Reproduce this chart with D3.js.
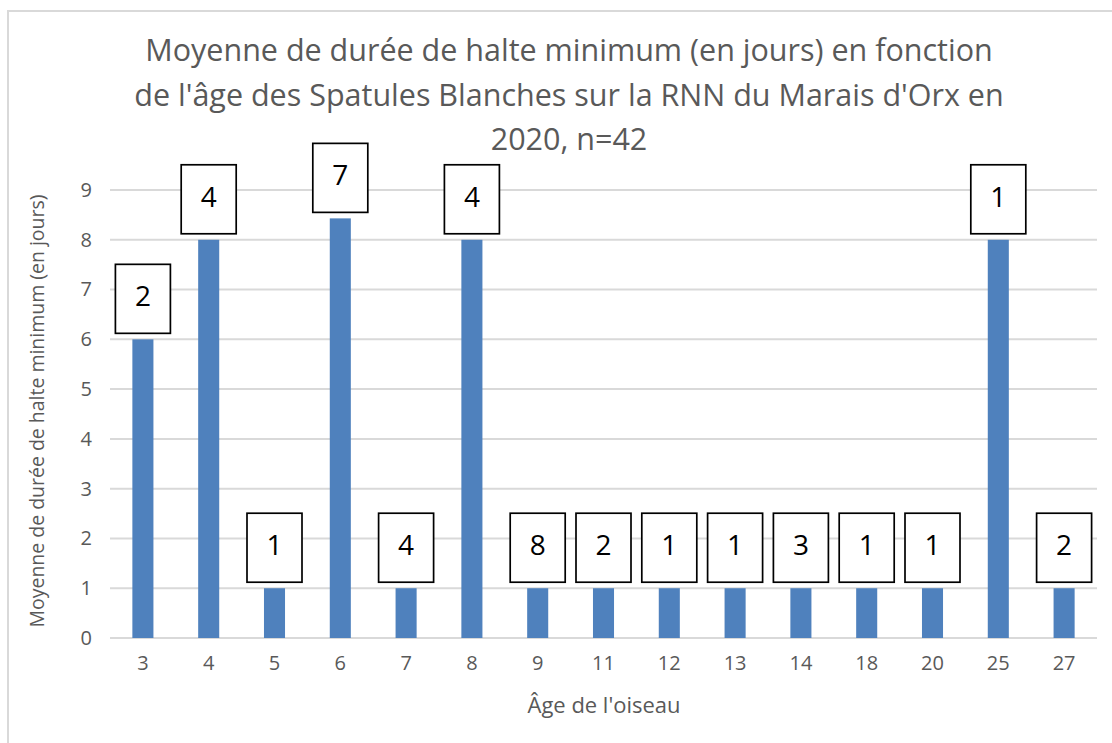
<!DOCTYPE html>
<html><head><meta charset="utf-8">
<script src="https://cdn.jsdelivr.net/npm/d3@7"></script>
<style>body{margin:0;background:#fff}svg{display:block}</style>
</head><body>
<svg id="c" width="1112" height="743"></svg>
<script>
const ages = ["3","4","5","6","7","8","9","11","12","13","14","18","20","25","27"];
const meanDays = [6,8,1,8.43,1,8,1,1,1,1,1,1,1,8,1];
const counts = [2,4,1,7,4,4,8,2,1,1,3,1,1,1,2];
const yTicks = [0,1,2,3,4,5,6,7,8,9];
const titleLines = ["Moyenne de durée de halte minimum (en jours) en fonction","de l'âge des Spatules Blanches sur la RNN du Marais d'Orx en","2020, n=42"];
const yTitle = "Moyenne de durée de halte minimum (en jours)";
const xTitle = "Âge de l'oiseau";

const svg = d3.select("#c");
const font = "'Open Sans', 'Noto Sans', sans-serif";
const grey = "#595959";

svg.append("rect").attr("x",8).attr("y",11).attr("width",1200).attr("height",800)
  .attr("fill","none").attr("stroke","#d9d9d9").attr("stroke-width",2);

const x = d3.scaleBand().domain(ages).range([110,1097]).paddingInner(0.68).paddingOuter(0.34);
const y = d3.scaleLinear().domain([0,9]).range([638,190]);

function fit(sel, target){
  const w = sel.node().getComputedTextLength();
  const fs = parseFloat(sel.attr("font-size"));
  sel.attr("font-size", fs*target/w);
  return fs*target/w;
}

// title
const t1 = svg.append("text").attr("x",569).attr("y",61).attr("text-anchor","middle")
  .attr("font-family",font).attr("font-size",26).attr("fill",grey).text(titleLines[0]);
const tfs = fit(t1, 848);
titleLines.slice(1).forEach((l,i)=>{
  svg.append("text").attr("x",569).attr("y",61+44.5*(i+1)).attr("text-anchor","middle")
    .attr("font-family",font).attr("font-size",tfs).attr("fill",grey).text(l);
});

// gridlines
svg.append("g").selectAll("line").data(yTicks).join("line")
  .attr("x1",110).attr("x2",1097).attr("y1",d=>y(d)).attr("y2",d=>y(d))
  .attr("stroke","#d9d9d9").attr("stroke-width",2);

// y axis labels
const yAxis = svg.append("g").attr("transform","translate(97,0)")
  .call(d3.axisLeft(y).tickValues(yTicks).tickSize(0).tickPadding(5));
yAxis.select(".domain").remove();
yAxis.attr("font-size",null).attr("font-family",null);
yAxis.selectAll("text").style("font-family",font).style("font-size","20px").attr("fill",grey);

// x axis labels
const xAxis = svg.append("g").attr("transform","translate(0,651)")
  .call(d3.axisBottom(x).tickSize(0).tickPadding(5));
xAxis.select(".domain").remove();
xAxis.attr("font-size",null).attr("font-family",null);
xAxis.selectAll("text").style("font-family",font).style("font-size","20px").attr("fill",grey);

// bars
svg.append("g").selectAll("rect").data(meanDays).join("rect")
  .attr("x",(d,i)=>x(ages[i])).attr("width",x.bandwidth())
  .attr("y",d=>y(d)).attr("height",d=>y(0)-y(d)).attr("fill","#4f81bd");

// labels
const bw = 55, bh = 69;
const lg = svg.append("g");
meanDays.forEach((d,i)=>{
  const cx = x(ages[i]) + x.bandwidth()/2;
  const bottom = y(d) - 6;
  lg.append("rect").attr("x",cx-bw/2).attr("y",bottom-bh).attr("width",bw).attr("height",bh)
    .attr("fill","#fff").attr("stroke","#000").attr("stroke-width",1.7);
  lg.append("text").attr("x",cx).attr("y",bottom-bh+32).attr("dy","0.35em")
    .attr("text-anchor","middle").attr("font-family",font).attr("font-size",28)
    .attr("fill","#000").text(counts[i]);
});

// axis titles
const yt = svg.append("text").attr("transform","translate(44,411) rotate(-90)")
  .attr("text-anchor","middle").attr("font-family",font).attr("font-size",19).attr("fill",grey).text(yTitle);
fit(yt, 433);
const xt = svg.append("text").attr("x",604).attr("y",713).attr("text-anchor","middle")
  .attr("font-family",font).attr("font-size",19).attr("fill",grey).text(xTitle);
fit(xt, 153);
</script>
</body></html>
